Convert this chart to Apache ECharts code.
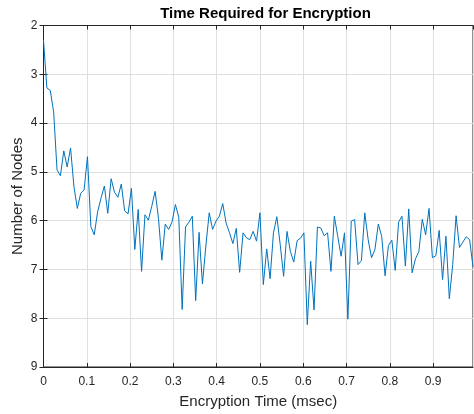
<!DOCTYPE html>
<html>
<head>
<meta charset="utf-8">
<script src="https://cdn.jsdelivr.net/npm/echarts@6/dist/echarts.min.js"></script>
<style>
  html, body { margin: 0; padding: 0; background: #ffffff; }
  #chart { width: 474px; height: 414px; }
</style>
</head>
<body>
<div id="chart"></div>
<script>
// Sample spacing: 128 samples over the encryption-time window
const sampleCount = 128;
const sampleStep = 1 / 128;

// Number of nodes observed at each sample
const nodeValues = [
  2.30, 3.28, 3.33, 3.77, 4.96, 5.08, 4.57, 4.90, 4.51, 5.30,
  5.75, 5.44, 5.37, 4.69, 6.12, 6.29, 5.82, 5.54, 5.29, 5.85,
  5.14, 5.42, 5.52, 5.25, 5.80, 5.86, 5.34, 6.59, 5.77, 7.04,
  5.88, 5.99, 5.71, 5.40, 5.95, 6.81, 6.07, 6.18, 6.03, 5.67,
  5.93, 7.82, 6.13, 6.03, 5.91, 7.64, 6.24, 7.30, 6.52, 5.84,
  6.18, 6.01, 5.91, 5.65, 6.05, 6.25, 6.47, 6.16, 7.06, 6.25,
  6.35, 6.39, 6.22, 6.42, 5.84, 7.31, 6.58, 7.19, 6.25, 5.92,
  6.49, 7.14, 6.22, 6.63, 6.85, 6.41, 6.36, 6.25, 8.13, 6.83,
  7.83, 6.13, 6.15, 6.31, 6.25, 7.04, 5.91, 6.32, 6.73, 6.25,
  8.02, 6.01, 5.98, 6.90, 6.82, 5.84, 6.39, 6.76, 6.59, 6.07,
  6.32, 7.13, 6.51, 6.40, 7.02, 6.03, 5.91, 6.93, 5.76, 7.07,
  6.78, 6.63, 5.97, 6.29, 5.75, 6.76, 6.72, 6.20, 7.21, 6.32,
  7.60, 6.90, 5.90, 6.55, 6.44, 6.33, 6.39, 6.95
];

// Axis ranges and tick spacing
const xMin = 0;
const xMax = (sampleCount - 1) * sampleStep;
const xInterval = 0.1;
const yMin = 2;
const yMax = 9;
const yInterval = 1;

const titleText = 'Time Required for Encryption';
const xName = 'Encryption Time (msec)';
const yName = 'Number of Nodes';

const points = nodeValues.map((v, i) => [i * sampleStep, v]);

const axisColor = '#262626';
const gridColor = '#dfdfdf';
const fontFamily = 'Arial, "Liberation Sans", Helvetica, sans-serif';

function xLabel(v) {
  const k = v / xInterval;
  if (Math.abs(k - Math.round(k)) > 1e-6) return '';
  return String(+(Math.round(k) * xInterval).toFixed(1));
}

const chart = echarts.init(document.getElementById('chart'), null, { renderer: 'canvas' });

chart.setOption({
  backgroundColor: '#ffffff',
  animation: false,
  title: {
    text: titleText,
    left: 265.5,
    top: 6,
    padding: 0,
    textAlign: 'center',
    textStyle: { fontFamily, fontSize: 15, fontWeight: 'bold', color: '#000000' }
  },
  grid: {
    left: 43.5,
    right: 1,
    top: 25.5,
    bottom: 46.5,
    show: true,
    borderColor: axisColor,
    borderWidth: 1,
    backgroundColor: '#ffffff'
  },
  xAxis: [
    {
      type: 'value',
      min: xMin,
      max: xMax,
      interval: xInterval,
      position: 'bottom',
      name: xName,
      nameLocation: 'middle',
      nameGap: 27,
      nameMoveOverlap: false,
      nameTextStyle: { fontFamily, fontSize: 15, color: axisColor },
      axisLine: { show: true, lineStyle: { color: axisColor, width: 1 } },
      axisTick: { show: true, inside: true, length: 4, lineStyle: { color: axisColor } },
      axisLabel: {
        fontFamily, fontSize: 12, color: axisColor, margin: 9,
        showMaxLabel: false, formatter: xLabel
      },
      splitLine: { show: true, lineStyle: { color: gridColor, width: 1 } }
    },
    {
      type: 'value',
      min: xMin,
      max: xMax,
      interval: xInterval,
      position: 'top',
      axisLine: { show: true, lineStyle: { color: axisColor, width: 1 } },
      axisTick: { show: true, inside: true, length: 4, lineStyle: { color: axisColor } },
      axisLabel: { show: false },
      splitLine: { show: false }
    }
  ],
  yAxis: [
    {
      type: 'value',
      inverse: true,
      min: yMin,
      max: yMax,
      interval: yInterval,
      position: 'left',
      name: yName,
      nameLocation: 'middle',
      nameGap: 18,
      nameMoveOverlap: false,
      nameTextStyle: { fontFamily, fontSize: 15, color: axisColor },
      axisLine: { show: true, lineStyle: { color: axisColor, width: 1 } },
      axisTick: { show: true, inside: true, length: 4, lineStyle: { color: axisColor } },
      axisLabel: { fontFamily, fontSize: 12, color: axisColor, margin: 6 },
      splitLine: { show: true, lineStyle: { color: gridColor, width: 1 } }
    },
    {
      type: 'value',
      inverse: true,
      min: yMin,
      max: yMax,
      interval: yInterval,
      position: 'right',
      axisLine: { show: true, lineStyle: { color: axisColor, width: 1 } },
      axisTick: { show: true, inside: true, length: 4, lineStyle: { color: axisColor } },
      axisLabel: { show: false },
      splitLine: { show: false }
    }
  ],
  series: [
    {
      type: 'line',
      xAxisIndex: 0,
      yAxisIndex: 0,
      data: points,
      showSymbol: false,
      symbol: 'none',
      lineStyle: { color: '#0072BD', width: 1 },
      z: 3
    }
  ]
});
</script>
</body>
</html>
